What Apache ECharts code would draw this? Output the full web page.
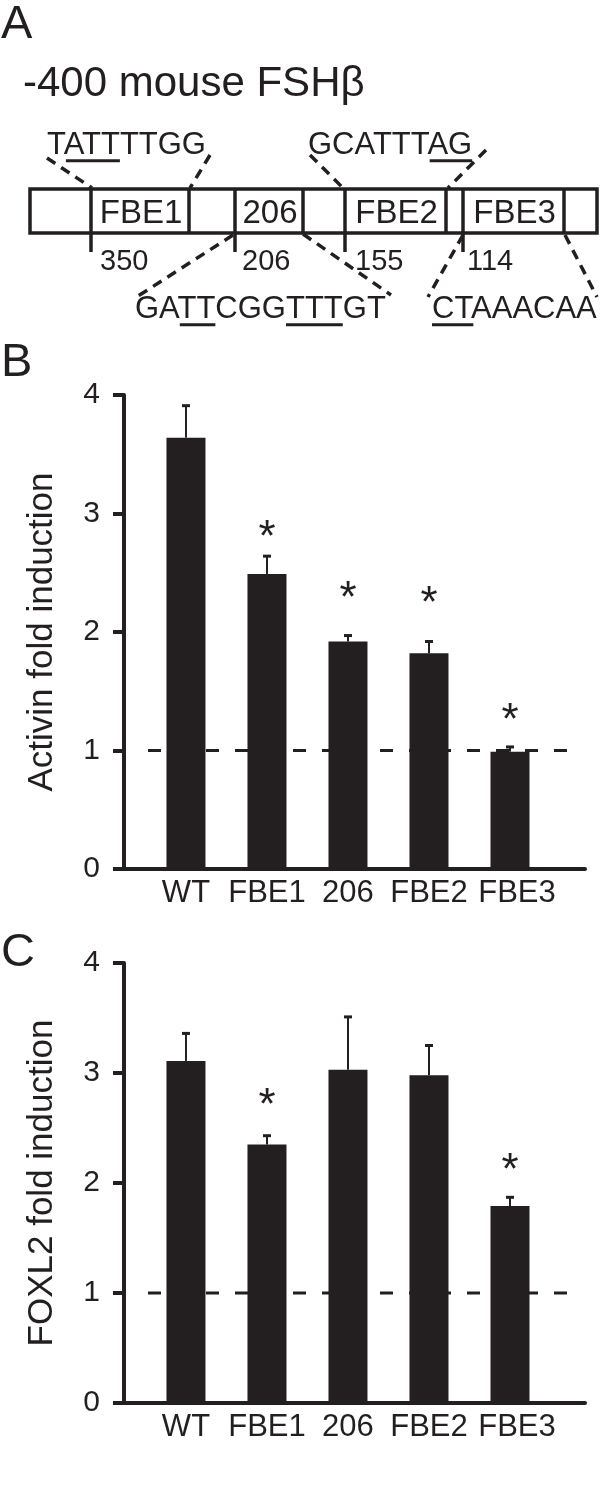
<!DOCTYPE html>
<html><head><meta charset="utf-8">
<script src="https://cdn.jsdelivr.net/npm/echarts@6/dist/echarts.min.js"></script>
<style>html,body{margin:0;padding:0;background:#fff}#c{width:601px;height:1498px}</style>
</head><body><div id="c"></div>
<script>
// ---------- data ----------
const categories = ['WT', 'FBE1', '206', 'FBE2', 'FBE3'];
const activinMean   = [3.64, 2.49, 1.92, 1.82, 0.99];
const activinErrTop = [3.91, 2.64, 1.97, 1.92, 1.03];
const activinStar   = [null, 2.87, 2.35, 2.31, 1.32];
const foxl2Mean     = [3.11, 2.35, 3.03, 2.98, 1.79];
const foxl2ErrTop   = [3.36, 2.43, 3.51, 3.25, 1.87];
const foxl2Star     = [null, 2.78, null, null, 2.19];
const yMin = 0, yMax = 4, yStep = 1;
const referenceLevel = 1;
const panelLetters = ['A', 'B', 'C'];
const yNames = ['Activin fold induction', 'FOXL2 fold induction'];
const promoterTitle = '-400 mouse FSH\u03B2';
const elementNames = ['FBE1', '206', 'FBE2', 'FBE3'];
const positionLabels = ['350', '206', '155', '114'];
const topSeqs = ['TATTTTGG', 'GCATTTAG'];
const bottomSeqs = ['GATTCGGTTTGT', 'CTAAACAA'];
const underlined = { TATTTTGG: [[1, 4]], GCATTTAG: [[6, 8]], GATTCGGTTTGT: [[2, 4], [7, 10]], CTAAACAA: [[0, 2]] };

// ---------- style ----------
const ink = '#231f20';
const F = '"Liberation Sans", Arial, Helvetica, sans-serif';
const mctx = document.createElement('canvas').getContext('2d');
function measure(s, fs) { mctx.font = fs + 'px ' + F; return mctx.measureText(s).width; }

function txt(str, x, y, fs, align) {
  return { type: 'text', x: x, y: y, silent: true, z: 10,
    style: { text: str, font: fs + 'px ' + F, fill: ink, textAlign: align || 'left', align: align || 'left',
             textVerticalAlign: 'middle', verticalAlign: 'middle' } };
}
function ln(x1, y1, x2, y2, w, dash) {
  const s = { stroke: ink, lineWidth: w };
  if (dash) s.lineDash = dash;
  return { type: 'line', silent: true, z: 10, shape: { x1, y1, x2, y2 }, style: s };
}
function seqWithUnderline(seq, x, y, fs, out) {
  out.push(txt(seq, x, y, fs, 'left'));
  const uy = y + 0.3465 * fs + 5;
  (underlined[seq] || []).forEach(function (r) {
    const a = x + measure(seq.slice(0, r[0]), fs), b = x + measure(seq.slice(0, r[1]), fs);
    out.push(ln(a, uy, b, uy, 3));
  });
}

// ---------- panel A diagram ----------
const g = [];
g.push(txt(panelLetters[0], 1, 25, 47));
g.push(txt(panelLetters[1], 1, 363, 47));
g.push(txt(panelLetters[2], 1, 953, 47));
g.push(txt(promoterTitle, 23, 84, 42));
g.push({ type: 'rect', silent: true, z: 10, shape: { x: 30, y: 189, width: 567, height: 44 },
  style: { fill: 'rgba(0,0,0,0)', stroke: ink, lineWidth: 3.5 } });
const dividers = [91, 189, 235, 303, 345, 446, 463, 564];
const longDiv = [91, 235, 345, 463];
dividers.forEach(function (x) { g.push(ln(x, 189, x, longDiv.indexOf(x) >= 0 ? 252 : 233, 3.5)); });
const cells = [[91, 189], [235, 303], [345, 446], [463, 564]];
elementNames.forEach(function (n, i) { g.push(txt(n, (cells[i][0] + cells[i][1]) / 2 + 1, 214, 33, 'center')); });
const posX = [100, 242, 355, 467];
positionLabels.forEach(function (p, i) { g.push(txt(p, posX[i], 262, 29)); });
seqWithUnderline(topSeqs[0], 47, 145, 31, g);
seqWithUnderline(topSeqs[1], 308, 145, 31, g);
seqWithUnderline(bottomSeqs[0], 135, 309, 31, g);
seqWithUnderline(bottomSeqs[1], 432, 309, 31, g);
const dsh = [10, 7];
[[47, 158, 92, 188], [210, 155, 190, 188], [310, 155, 343, 188], [486, 150, 448, 188],
 [233, 235, 135, 298], [303, 234, 391, 295], [463, 235, 428, 297], [565, 235, 597, 297]]
  .forEach(function (s) { g.push(ln(s[0], s[1], s[2], s[3], 3.5, dsh)); });

// ---------- panels B and C ----------
const xMin = -0.765, xMax = 4.926;
const refFrom = -0.469, refTo = 4.704;
const barW = 39;
const grids = [
  { left: 124, top: 395, width: 461, height: 474, containLabel: false, outerBoundsMode: 'none' },
  { left: 124, top: 963, width: 461, height: 440, containLabel: false, outerBoundsMode: 'none' }
];
const xAxes = [], yAxes = [], series = [];
const panels = [
  { mean: activinMean, err: activinErrTop, star: activinStar },
  { mean: foxl2Mean, err: foxl2ErrTop, star: foxl2Star }
];
const lblStyle = { fontSize: 31, fontFamily: F, color: ink };
panels.forEach(function (p, k) {
  xAxes.push({ type: 'value', gridIndex: k, min: xMin, max: xMax,
    axisLine: { show: true, onZero: false, lineStyle: { color: ink, width: 4 } },
    axisTick: { show: false }, splitLine: { show: false },
    axisLabel: { customValues: [0, 1, 2, 3, 4],
      formatter: function (v) { const i = Math.round(v); return (i === categories.length - 1 ? '{last|' : '{n|') + categories[i] + '}'; },
      rich: { n: lblStyle, last: Object.assign({ padding: [0, 0, 0, 14] }, lblStyle) },
      fontSize: 31, fontFamily: F, color: ink, margin: 9 } });
  yAxes.push({ type: 'value', gridIndex: k, min: yMin, max: yMax, interval: yStep,
    name: yNames[k], nameLocation: 'middle', nameRotate: 90, nameGap: 64,
    nameTextStyle: { fontSize: 35, fontFamily: F, color: ink },
    axisLine: { show: true, onZero: false, lineStyle: { color: ink, width: 4 } },
    axisTick: { show: true, length: 11, lineStyle: { color: ink, width: 4 } },
    splitLine: { show: false },
    axisLabel: { fontSize: 30, fontFamily: F, color: ink, margin: 24 } });
  series.push({ type: 'line', xAxisIndex: k, yAxisIndex: k, z: 1, silent: true, symbol: 'none',
    data: [[refFrom, referenceLevel], [refTo, referenceLevel]],
    lineStyle: { color: ink, width: 3, type: [13, 16] } });
  series.push({ type: 'custom', xAxisIndex: k, yAxisIndex: k, z: 3, silent: true,
    data: p.mean.map(function (v, i) { return [i, v]; }), encode: { x: 0, y: 1 },
    renderItem: function (params, api) {
      const i = api.value(0), v = api.value(1);
      const p0 = api.coord([i, 0]), p1 = api.coord([i, v]);
      return { type: 'rect', shape: { x: p0[0] - barW / 2, y: p1[1], width: barW, height: p0[1] - p1[1] }, style: { fill: ink } };
    } });
  series.push({ type: 'custom', xAxisIndex: k, yAxisIndex: k, z: 4, silent: true,
    data: p.mean.map(function (v, i) { return [i, v, p.err[i]]; }), encode: { x: 0, y: [1, 2] },
    renderItem: function (params, api) {
      const i = api.value(0);
      const b = api.coord([i, api.value(1)]), t = api.coord([i, api.value(2)]);
      return { type: 'group', children: [
        { type: 'line', shape: { x1: b[0], y1: b[1], x2: t[0], y2: t[1] }, style: { stroke: ink, lineWidth: 2 } },
        { type: 'line', shape: { x1: t[0] - 4, y1: t[1], x2: t[0] + 4, y2: t[1] }, style: { stroke: ink, lineWidth: 3 } }
      ] };
    } });
  series.push({ type: 'custom', xAxisIndex: k, yAxisIndex: k, z: 4, silent: true,
    data: p.star.map(function (v, i) { return [i, v]; }).filter(function (d) { return d[1] != null; }),
    encode: { x: 0, y: 1 },
    renderItem: function (params, api) {
      const c = api.coord([api.value(0), api.value(1)]);
      const fs = 44;
      return { type: 'text', x: c[0], y: c[1] + 0.22 * fs,
        style: { text: '*', font: fs + 'px ' + F, fill: ink, align: 'center', verticalAlign: 'middle',
                 textAlign: 'center', textVerticalAlign: 'middle' } };
    } });
});

const chart = echarts.init(document.getElementById('c'), null, { renderer: 'canvas' });
chart.setOption({
  backgroundColor: '#ffffff',
  animation: false,
  grid: grids, xAxis: xAxes, yAxis: yAxes, series: series,
  graphic: { elements: g }
});
</script></body></html>
